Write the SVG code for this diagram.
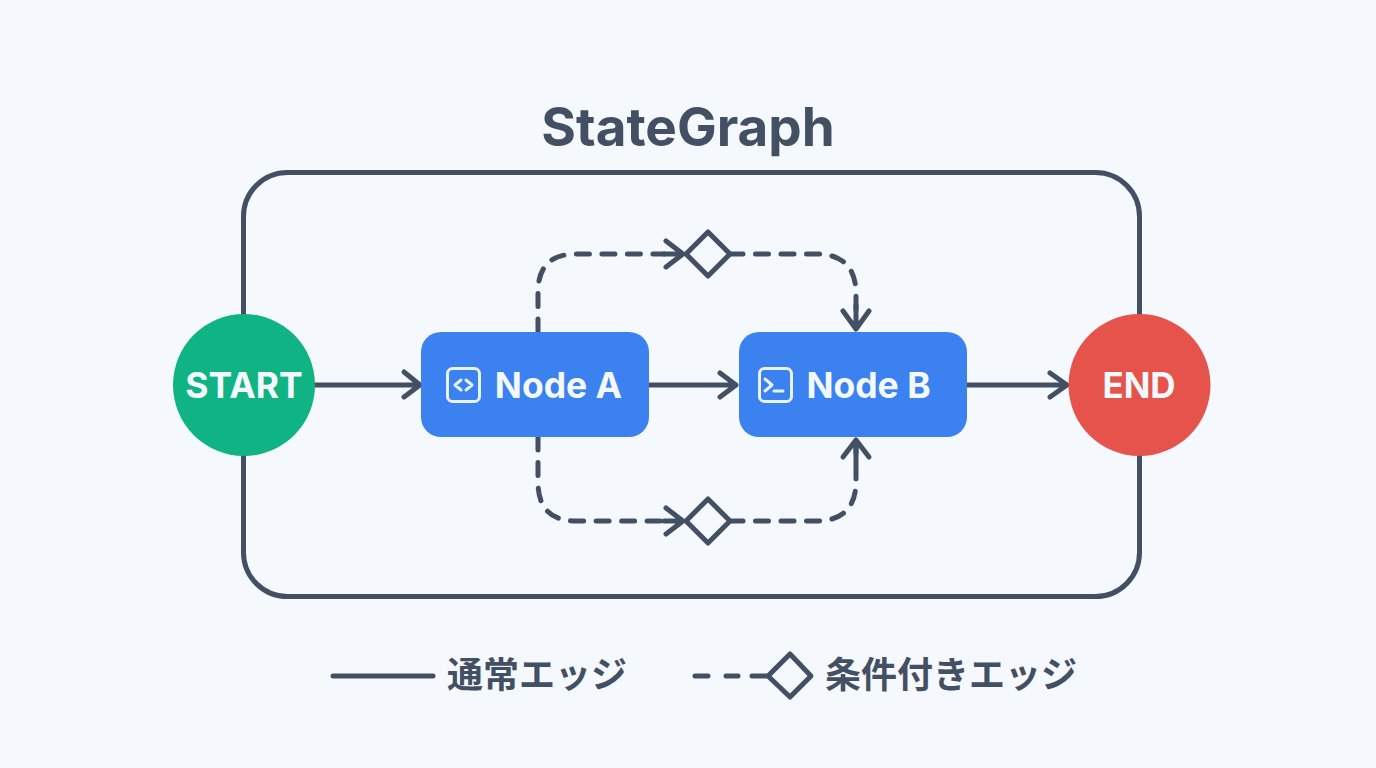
<svg xmlns="http://www.w3.org/2000/svg" width="1376" height="768" viewBox="0 0 1376 768">
<style>
text{font-family:"Inter","Noto Sans CJK JP","Noto Sans",sans-serif;font-weight:700}
.l{fill:none;stroke:#435064;stroke-width:5;stroke-linecap:round;stroke-linejoin:round}
.d{stroke-dasharray:13 12.5}
.w{fill:#f4f9fd;text-anchor:middle}
.ic{fill:none;stroke:#eaf2fe;stroke-width:3;stroke-linecap:round;stroke-linejoin:round}
.k{fill:#435064}
</style>
<rect width="1376" height="768" fill="#f5f9fd"/>
<text id="title" x="688" y="146" font-size="53" text-anchor="middle" class="k">StateGraph</text>
<rect id="frame" x="243.500" y="172.500" width="896" height="424" rx="44" class="l"/>
<g id="connectors">
<path class="l" d="M314 385H418M404 372L420 385L404 397"/>
<path class="l" d="M649 385H736M720 373L736 385L720 397"/>
<path class="l" d="M967 385H1066M1050 373L1067 385L1050 397"/>
<path class="l d" d="M538 332V292Q538 254 576 254H664"/>
<path class="l" d="M666 241L683 254L666 267M664 254H683"/>
<path class="l d" d="M730 254H816Q856 254 856 294V325"/>
<path class="l" d="M843 311L856 329L869 311M856 305V329"/>
<path class="l d" d="M538 437V482Q538 521 576 521H664"/>
<path class="l" d="M666 508L683 521L666 534M664 521H683"/>
<path class="l d" d="M730 521H816Q856 521 856 481V448"/>
<path class="l" d="M843 457L856 440L869 457M856 440V464"/>
</g>
<path id="cond-top" class="l" d="M708 232L730 254L708 276L686 254Z"/>
<path id="cond-bottom" class="l" d="M708 499L730 521L708 543L686 521Z"/>
<g id="start"><circle cx="244" cy="385" r="71" fill="#10b383"/><text class="w" x="244" y="398" font-size="35.500">START</text></g>
<g id="end"><circle cx="1139.500" cy="385" r="71" fill="#e5534b"/><text class="w" x="1139" y="398" font-size="35">END</text></g>
<g id="node-a"><rect x="421" y="332" width="228" height="105" rx="20" fill="#3b82f0"/>
<rect class="ic" x="447.500" y="368.500" width="32" height="33" rx="5"/>
<path class="ic" d="M461 380L455 385L461 390M466 380L472 385L466 390"/>
<text class="w" x="558.500" y="398" font-size="35.500">Node A</text></g>
<g id="node-b"><rect x="739" y="332" width="228" height="105" rx="20" fill="#3b82f0"/>
<rect class="ic" x="759.500" y="368.500" width="32" height="33" rx="5"/>
<path class="ic" d="M765 379L772 385L765 391M774 391H783"/>
<text class="w" x="868.500" y="398" font-size="35.500">Node B</text></g>
<g id="legend">
<path class="l" d="M333 676H433"/>
<text x="447" y="688" font-size="36" class="k">通常エッジ</text>
<path class="l" d="M695 676H708M726 676H738M752 676H768"/>
<path class="l" d="M790 654L811 676L790 697L768 676Z"/>
<text x="825" y="688" font-size="36" class="k">条件付きエッジ</text>
</g>
</svg>
